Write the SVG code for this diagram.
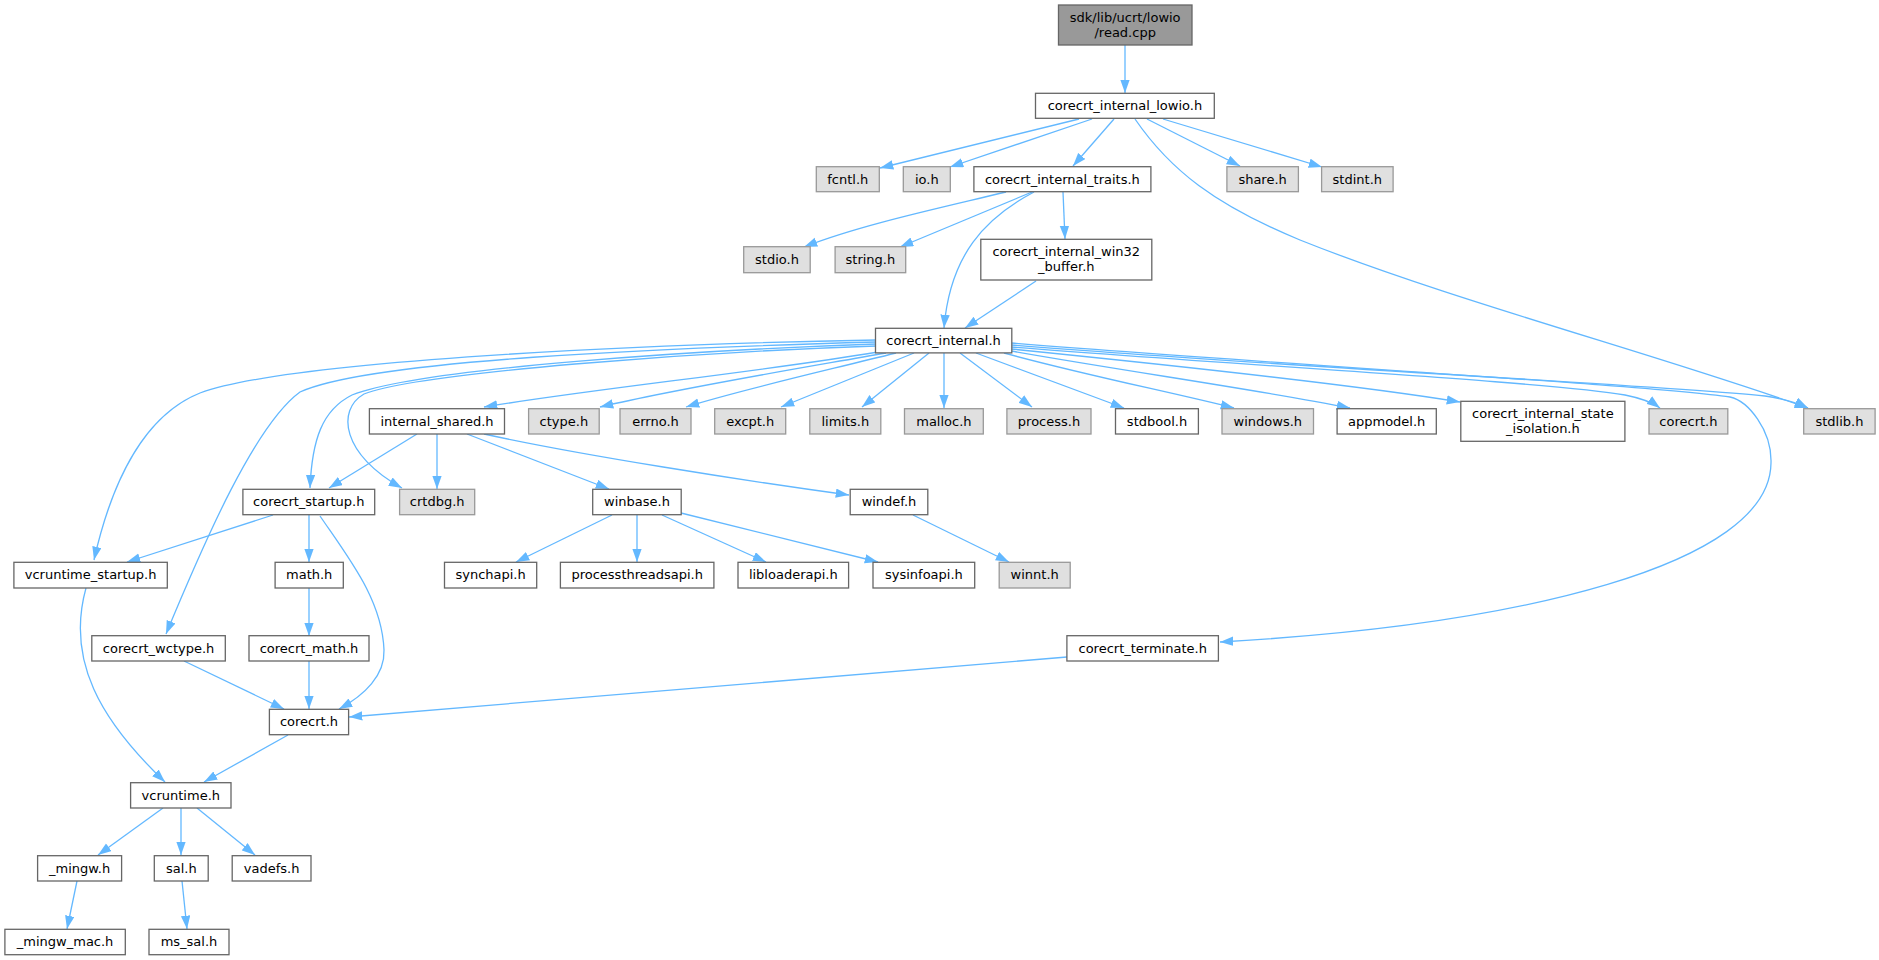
<svg xmlns="http://www.w3.org/2000/svg" width="1879" height="960" viewBox="0 0 1879 960">
<style>
.n rect{fill:#ffffff;stroke:#666666;stroke-width:1.3}
.g rect{fill:#e0e0e0;stroke:#999999;stroke-width:1.3}
.r rect{fill:#999999;stroke:#666666;stroke-width:1.3}
text{font-family:"DejaVu Sans","Liberation Sans",sans-serif;font-size:13px;fill:#000000;text-anchor:middle}
#edges path{fill:none;stroke:#63b8ff;stroke-width:1.3;marker-end:url(#arr)}
</style>
<defs>
<marker id="arr" markerUnits="userSpaceOnUse" markerWidth="14" markerHeight="10" viewBox="0 0 14 10" refX="13.3" refY="4.7" orient="auto">
<path d="M0,0 L13.3,4.7 L0,9.4 z" fill="#63b8ff"/>
</marker>
</defs>
<rect width="1879" height="960" fill="#ffffff"/>
<g id="edges">
<path d="M1125,45 L1125,93"/>
<path d="M1079,119 L880,168"/>
<path d="M1092,119 L950,167"/>
<path d="M1114,119 L1073,166"/>
<path d="M1147,119 L1240,166"/>
<path d="M1163,119 L1322,167"/>
<path d="M1135,119 C1170,170 1215,205 1300,240 C1450,300 1660,355 1808,408"/>
<path d="M1006,192 C940,208 860,225 804,247"/>
<path d="M1032,192 L900,247"/>
<path d="M1034,192 C985,218 950,255 944,328"/>
<path d="M1063,192 L1065,239"/>
<path d="M1036,281 L965,328"/>
<path d="M876,340 C650,344 290,360 200,393 C145,415 112,480 94,560"/>
<path d="M876,342 C660,348 370,360 300,392 C255,425 205,540 166,634"/>
<path d="M876,344 C700,350 420,368 352,395 C322,410 312,440 310,488"/>
<path d="M876,346 C700,352 420,372 364,394 C336,410 342,455 402,488"/>
<path d="M878,352 C760,372 600,388 484,407"/>
<path d="M886,353 C790,370 680,388 600,407"/>
<path d="M896,353 C820,372 740,390 686,407"/>
<path d="M914,353 L781,407"/>
<path d="M929,353 L862,407"/>
<path d="M944,353 L944,408"/>
<path d="M960,353 L1032,407"/>
<path d="M976,353 L1124,408"/>
<path d="M1004,353 C1080,374 1170,392 1234,408"/>
<path d="M1011,351 C1130,372 1260,390 1350,408"/>
<path d="M1011,349 C1180,366 1350,384 1460,402"/>
<path d="M1011,347 C1250,366 1550,382 1625,395 C1640,398 1652,402 1660,408"/>
<path d="M1011,345 C1300,368 1660,385 1765,396 C1785,399 1798,403 1808,408"/>
<path d="M1011,343 C1300,366 1650,385 1730,397 C1748,401 1772,430 1771,463 C1770,565 1520,625 1220,642"/>
<path d="M417,434 L329,488"/>
<path d="M437,434 L437,489"/>
<path d="M467,434 L609,489"/>
<path d="M484,434 C580,455 740,480 849,495"/>
<path d="M273,515 L127,562"/>
<path d="M309,515 L309,562"/>
<path d="M320,516 C350,560 382,600 384,650 C385,675 365,695 339,709"/>
<path d="M86,588 C66,660 100,720 165,782"/>
<path d="M309,588 L309,636"/>
<path d="M309,661 L309,709"/>
<path d="M184,661 L284,709"/>
<path d="M1067,657 L349,717"/>
<path d="M288,735 L204,782"/>
<path d="M163,808 L98,855"/>
<path d="M181,808 L181,855"/>
<path d="M197,808 L255,855"/>
<path d="M77,881 L67,929"/>
<path d="M182,881 L187,929"/>
<path d="M612,515 L516,562"/>
<path d="M637,515 L637,562"/>
<path d="M662,515 L766,562"/>
<path d="M681,513 L878,562"/>
<path d="M913,515 L1009,562"/>
</g>
<g id="n_read" class="r"><rect x="1058.5" y="5" width="133.5" height="40"/><text x="1125.2" y="21.5">sdk/lib/ucrt/lowio</text><text x="1125.2" y="36.5">/read.cpp</text></g>
<g id="n_lowio" class="n"><rect x="1035.5" y="93.3" width="178.8" height="25"/><text x="1124.9" y="110.3">corecrt_internal_lowio.h</text></g>
<g id="n_fcntl" class="g"><rect x="816.3" y="166.7" width="63" height="25"/><text x="847.8" y="183.7">fcntl.h</text></g>
<g id="n_io" class="g"><rect x="903.3" y="166.7" width="47" height="25"/><text x="926.8" y="183.7">io.h</text></g>
<g id="n_traits" class="n"><rect x="973.9" y="166.7" width="177" height="25"/><text x="1062.4" y="183.7">corecrt_internal_traits.h</text></g>
<g id="n_share" class="g"><rect x="1226.9" y="166.7" width="71.5" height="25"/><text x="1262.6" y="183.7">share.h</text></g>
<g id="n_stdint" class="g"><rect x="1321.6" y="166.7" width="71.5" height="25"/><text x="1357.3" y="183.7">stdint.h</text></g>
<g id="n_stdio" class="g"><rect x="743.7" y="246.7" width="66.5" height="26"/><text x="777" y="264">stdio.h</text></g>
<g id="n_string" class="g"><rect x="835.1" y="246.7" width="70.6" height="26"/><text x="870.4" y="264">string.h</text></g>
<g id="n_win32buf" class="n"><rect x="980.8" y="239.3" width="171" height="40.7"/><text x="1066.3" y="256">corecrt_internal_win32</text><text x="1066.3" y="271">_buffer.h</text></g>
<g id="n_internal" class="n"><rect x="875.5" y="328.3" width="136.3" height="24.6"/><text x="943.6" y="345.3">corecrt_internal.h</text></g>
<g id="n_ishared" class="n"><rect x="369.4" y="408.7" width="135.1" height="25.3"/><text x="437" y="425.7">internal_shared.h</text></g>
<g id="n_ctype" class="g"><rect x="528.6" y="408.7" width="70.6" height="25.3"/><text x="563.9" y="425.7">ctype.h</text></g>
<g id="n_errno" class="g"><rect x="620" y="408.7" width="71" height="25.3"/><text x="655.5" y="425.7">errno.h</text></g>
<g id="n_excpt" class="g"><rect x="714.7" y="408.7" width="71" height="25.3"/><text x="750.2" y="425.7">excpt.h</text></g>
<g id="n_limits" class="g"><rect x="809.8" y="408.7" width="71" height="25.3"/><text x="845.3" y="425.7">limits.h</text></g>
<g id="n_malloc" class="g"><rect x="904.5" y="408.7" width="78.8" height="25.3"/><text x="943.9" y="425.7">malloc.h</text></g>
<g id="n_process" class="g"><rect x="1006.9" y="408.7" width="84.1" height="25.3"/><text x="1049" y="425.7">process.h</text></g>
<g id="n_stdbool" class="n"><rect x="1115.5" y="408.7" width="82.9" height="25.3"/><text x="1157" y="425.7">stdbool.h</text></g>
<g id="n_windows" class="g"><rect x="1222" y="408.7" width="91.5" height="25.3"/><text x="1267.8" y="425.7">windows.h</text></g>
<g id="n_appmodel" class="n"><rect x="1337.1" y="408.7" width="99.2" height="25.3"/><text x="1386.7" y="425.7">appmodel.h</text></g>
<g id="n_stateiso" class="n"><rect x="1460.8" y="401.3" width="164.1" height="40"/><text x="1542.9" y="417.8">corecrt_internal_state</text><text x="1542.9" y="432.8">_isolation.h</text></g>
<g id="n_corecrt_g" class="g"><rect x="1649" y="408.7" width="78.8" height="25.3"/><text x="1688.4" y="425.7">corecrt.h</text></g>
<g id="n_stdlib" class="g"><rect x="1803.7" y="408.7" width="71.4" height="25.3"/><text x="1839.4" y="425.7">stdlib.h</text></g>
<g id="n_startup" class="n"><rect x="242.9" y="489.3" width="131.8" height="25.4"/><text x="308.8" y="506.3">corecrt_startup.h</text></g>
<g id="n_crtdbg" class="g"><rect x="399.6" y="489.3" width="75.1" height="25.4"/><text x="437.2" y="506.3">crtdbg.h</text></g>
<g id="n_winbase" class="n"><rect x="592.7" y="489.3" width="88.5" height="25.4"/><text x="637" y="506.3">winbase.h</text></g>
<g id="n_windef" class="n"><rect x="850.2" y="489.3" width="77.6" height="25.4"/><text x="889" y="506.3">windef.h</text></g>
<g id="n_vcstartup" class="n"><rect x="13.9" y="562.3" width="153.4" height="25.7"/><text x="90.6" y="579.3">vcruntime_startup.h</text></g>
<g id="n_math" class="n"><rect x="275.1" y="562.3" width="68.2" height="25.7"/><text x="309.2" y="579.3">math.h</text></g>
<g id="n_synchapi" class="n"><rect x="444.5" y="562.3" width="92.2" height="25.7"/><text x="490.6" y="579.3">synchapi.h</text></g>
<g id="n_procthr" class="n"><rect x="560.4" y="562.3" width="153.5" height="25.7"/><text x="637.2" y="579.3">processthreadsapi.h</text></g>
<g id="n_libloader" class="n"><rect x="738" y="562.3" width="110.6" height="25.7"/><text x="793.3" y="579.3">libloaderapi.h</text></g>
<g id="n_sysinfo" class="n"><rect x="873" y="562.3" width="101.7" height="25.7"/><text x="923.9" y="579.3">sysinfoapi.h</text></g>
<g id="n_winnt" class="g"><rect x="999.2" y="562.3" width="71" height="25.7"/><text x="1034.7" y="579.3">winnt.h</text></g>
<g id="n_wctype" class="n"><rect x="91.8" y="635.7" width="133.5" height="25.3"/><text x="158.6" y="652.7">corecrt_wctype.h</text></g>
<g id="n_cmath" class="n"><rect x="249" y="635.7" width="120" height="25.3"/><text x="309" y="652.7">corecrt_math.h</text></g>
<g id="n_terminate" class="n"><rect x="1066.9" y="635.7" width="151.5" height="25.3"/><text x="1142.7" y="652.7">corecrt_terminate.h</text></g>
<g id="n_corecrt" class="n"><rect x="269.4" y="709.3" width="79.2" height="25.4"/><text x="309" y="726.3">corecrt.h</text></g>
<g id="n_vcruntime" class="n"><rect x="130.6" y="782.7" width="100.4" height="25.3"/><text x="180.8" y="799.7">vcruntime.h</text></g>
<g id="n_mingw" class="n"><rect x="37.6" y="855.7" width="84" height="25.3"/><text x="79.6" y="872.7">_mingw.h</text></g>
<g id="n_sal" class="n"><rect x="154.3" y="855.7" width="53.9" height="25.3"/><text x="181.3" y="872.7">sal.h</text></g>
<g id="n_vadefs" class="n"><rect x="232.2" y="855.7" width="78.8" height="25.3"/><text x="271.6" y="872.7">vadefs.h</text></g>
<g id="n_mingwmac" class="n"><rect x="4.9" y="929.3" width="120.4" height="25.4"/><text x="65.1" y="946.3">_mingw_mac.h</text></g>
<g id="n_mssal" class="n"><rect x="149" y="929.3" width="80" height="25.4"/><text x="189" y="946.3">ms_sal.h</text></g>
</svg>
